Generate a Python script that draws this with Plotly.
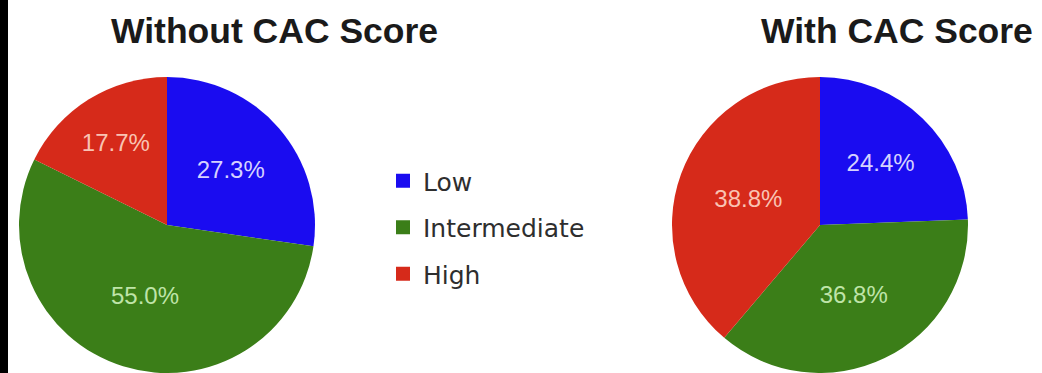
import plotly.graph_objects as go

categories = ["Low", "Intermediate", "High"]
without_cac = [27.3, 55.0, 17.7]
with_cac = [24.4, 36.8, 38.8]
titles = ["Without CAC Score", "With CAC Score"]

slice_colors = ["#1a0cf0", "#3b7e18", "#d62a1a"]
label_colors = ["#d6d2ff", "#bfe4a8", "#f9c3b3"]

W, H = 1042, 373

fig = go.Figure()

def pie(values, cx, name):
    r = 148
    return go.Pie(
        labels=categories,
        values=values,
        name=name,
        sort=False,
        direction="clockwise",
        rotation=0,
        marker=dict(colors=slice_colors, line=dict(width=0)),
        texttemplate="%{value:.1f}%",
        textposition="inside",
        insidetextorientation="horizontal",
        textfont=dict(family="Liberation Sans, Arial, sans-serif", size=24, color=label_colors),
        domain=dict(x=[(cx - r) / W, (cx + r) / W], y=[0, (2 * r) / H]),
        showlegend=False,
        hoverinfo="label+percent",
    )

fig.add_trace(pie(without_cac, 167, titles[0]))
fig.add_trace(pie(with_cac, 820, titles[1]))

for cat, col in zip(categories, slice_colors):
    fig.add_trace(go.Scatter(
        x=[None], y=[None], mode="markers", name=cat, legendgroup=cat,
        marker=dict(symbol="square", size=14, color=col),
        showlegend=True,
    ))

fig.update_layout(
    width=W, height=H,
    margin=dict(l=0, r=0, t=0, b=0),
    paper_bgcolor="white", plot_bgcolor="white",
    xaxis=dict(visible=False), yaxis=dict(visible=False),
    legend=dict(
        x=383 / W, y=1 - 158 / H, xanchor="left", yanchor="top",
        font=dict(family="DejaVu Sans, sans-serif", size=25, color="#2e2e2e"),
        tracegroupgap=11, bgcolor="rgba(0,0,0,0)",
    ),
    annotations=[
        dict(text="<b>%s</b>" % titles[0], x=274 / W, y=1 - 31 / H, xref="paper", yref="paper",
             showarrow=False, xanchor="center", yanchor="middle",
             font=dict(family="Liberation Sans, Arial, sans-serif", size=35.5, color="#1a1a1a")),
        dict(text="<b>%s</b>" % titles[1], x=897 / W, y=1 - 31 / H, xref="paper", yref="paper",
             showarrow=False, xanchor="center", yanchor="middle",
             font=dict(family="Liberation Sans, Arial, sans-serif", size=35.5, color="#1a1a1a")),
    ],
    shapes=[dict(type="rect", xref="paper", yref="paper", x0=0, x1=8 / W, y0=0, y1=1,
                 fillcolor="black", line=dict(width=0), layer="above")],
)

fig.write_html("out.html")
